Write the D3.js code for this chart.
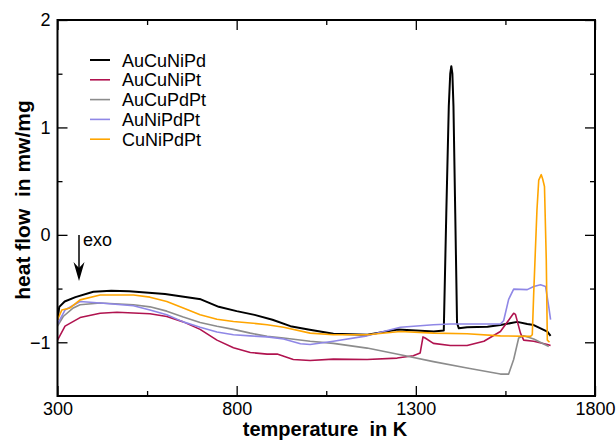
<!DOCTYPE html>
<html>
<head>
<meta charset="utf-8">
<script src="https://cdn.jsdelivr.net/npm/d3@7"></script>
<style>
body { margin: 0; background: #fff; }
text { font-family: "Liberation Sans", Arial, sans-serif; }
</style>
</head>
<body>
<div id="chart"></div>
<script>
////// DATA ////////
var names = ["AuCuNiPd", "AuCuNiPt", "AuCuPdPt", "AuNiPdPt", "CuNiPdPt"];
var colours = ["#000000", "#b0134f", "#8c8c8c", "#8f87e6", "#ffa500"];

// [temperature K, heat flow mw/mg]
var auCuNiPd = [[300,-0.79],[305,-0.67],[320,-0.62],[350,-0.58],[400,-0.53],[450,-0.52],[500,-0.525],[600,-0.55],[700,-0.60],[750,-0.67],[800,-0.71],[850,-0.745],[900,-0.79],[950,-0.85],[1000,-0.88],[1070,-0.92],[1165,-0.93],[1250,-0.88],[1350,-0.90],[1378,-0.89],[1385,0.2],[1392,1.2],[1396,1.5],[1399,1.57],[1402,1.5],[1405,1.2],[1410,0.2],[1415,-0.82],[1420,-0.87],[1443,-0.86],[1500,-0.855],[1536,-0.84],[1583,-0.81],[1611,-0.83],[1629,-0.84],[1648,-0.87],[1667,-0.90],[1676,-0.94]];
var auCuNiPt = [[300,-0.98],[321,-0.85],[363,-0.77],[419,-0.73],[466,-0.72],[558,-0.735],[605,-0.76],[651,-0.81],[698,-0.88],[745,-0.98],[791,-1.05],[838,-1.095],[885,-1.11],[913,-1.11],[958,-1.16],[1005,-1.17],[1070,-1.157],[1164,-1.16],[1248,-1.147],[1293,-1.125],[1312,-1.10],[1320,-0.95],[1326,-0.96],[1349,-1.01],[1396,-1.03],[1443,-1.03],[1490,-0.99],[1536,-0.90],[1573,-0.73],[1578,-0.74],[1592,-0.915],[1601,-0.98],[1629,-0.99],[1667,-1.02],[1676,-1.03]];
var auCuPdPt = [[300,-0.85],[316,-0.76],[344,-0.68],[363,-0.65],[419,-0.635],[512,-0.65],[558,-0.67],[605,-0.71],[651,-0.765],[698,-0.815],[745,-0.85],[791,-0.88],[838,-0.915],[885,-0.945],[931,-0.96],[1005,-0.99],[1070,-1.01],[1164,-1.054],[1257,-1.116],[1349,-1.18],[1443,-1.24],[1536,-1.296],[1559,-1.296],[1573,-1.16],[1587,-0.96],[1601,-0.94],[1629,-0.97],[1671,-1.04]];
var auNiPdPt = [[300,-0.83],[321,-0.70],[363,-0.62],[419,-0.635],[512,-0.66],[558,-0.70],[605,-0.744],[651,-0.81],[698,-0.86],[745,-0.905],[791,-0.93],[838,-0.94],[885,-0.95],[931,-0.97],[978,-1.014],[1005,-1.02],[1070,-0.99],[1164,-0.94],[1210,-0.90],[1257,-0.86],[1349,-0.837],[1396,-0.83],[1443,-0.83],[1536,-0.83],[1545,-0.80],[1559,-0.60],[1573,-0.505],[1611,-0.51],[1629,-0.48],[1648,-0.465],[1662,-0.48],[1671,-0.67],[1676,-0.79]];
var cuNiPdPt = [[300,-0.79],[312,-0.70],[335,-0.68],[363,-0.605],[419,-0.56],[512,-0.56],[558,-0.58],[605,-0.62],[651,-0.68],[698,-0.744],[745,-0.785],[791,-0.806],[838,-0.82],[885,-0.837],[931,-0.86],[1005,-0.915],[1070,-0.93],[1164,-0.93],[1257,-0.90],[1349,-0.915],[1443,-0.92],[1536,-0.94],[1620,-0.945],[1625,-0.93],[1629,-0.54],[1638,0.23],[1643,0.51],[1650,0.56],[1654,0.52],[1659,0.45],[1664,-0.23],[1667,-0.98],[1673,-1.0]];
var series = [auCuNiPd, auCuNiPt, auCuPdPt, auNiPdPt, cuNiPdPt];

var xTicks = [300, 800, 1300, 1800];
var xMinor = [550, 1050, 1550];
var yTicks = [-1, 0, 1, 2];
var yMinor = [-0.5, 0.5, 1.5];
///////////////////////

var w = 616, h = 441;
var mLeft = 57.5, mRight = 595, mTop = 20, mBottom = 396;

var svg = d3.select("#chart").append("svg")
	.attr("width", w)
	.attr("height", h);

var xScale = d3.scaleLinear().domain([300, 1800]).range([mLeft, mRight]);
var yScale = d3.scaleLinear().domain([-1.5, 2]).range([mBottom, mTop]);

// curves
var line = d3.line()
	.x(function (d) { return xScale(d[0]); })
	.y(function (d) { return yScale(d[1]); });

svg.append("defs").append("clipPath").attr("id", "clip")
	.append("rect").attr("x", mLeft).attr("y", mTop)
	.attr("width", mRight - mLeft).attr("height", mBottom - mTop);

svg.append("g").attr("clip-path", "url(#clip)")
	.selectAll("path")
	.data(series)
	.enter()
	.append("path")
	.attr("d", line)
	.attr("fill", "none")
	.attr("stroke", function (d, i) { return colours[i]; })
	.attr("stroke-width", function (d, i) { return i == 0 ? 2 : 1.6; })
	.attr("stroke-linejoin", "round");

// axes, ticks pointing inward on all four sides
function axisLine(axis) {
	return function (g) {
		g.call(axis);
		g.select(".domain").remove();
		g.selectAll(".tick line").attr("stroke", "#000").attr("stroke-width", 1.3);
		g.selectAll(".tick text").style("font-size", "18px").attr("fill", "#000");
	};
}

svg.append("g").attr("transform", "translate(0," + mBottom + ")")
	.call(axisLine(d3.axisBottom(xScale).tickValues(xTicks).tickSizeInner(-10).tickPadding(6).tickFormat(d3.format("d"))));
svg.append("g").attr("transform", "translate(0," + mBottom + ")")
	.call(axisLine(d3.axisBottom(xScale).tickValues(xMinor).tickSizeInner(-5).tickFormat("")));
svg.append("g").attr("transform", "translate(0," + mTop + ")")
	.call(axisLine(d3.axisTop(xScale).tickValues(xTicks).tickSizeInner(-10).tickFormat("")));
svg.append("g").attr("transform", "translate(0," + mTop + ")")
	.call(axisLine(d3.axisTop(xScale).tickValues(xMinor).tickSizeInner(-5).tickFormat("")));

svg.append("g").attr("transform", "translate(" + mLeft + ",0)")
	.call(axisLine(d3.axisLeft(yScale).tickValues(yTicks).tickSizeInner(-10).tickPadding(7).tickFormat(d3.format("d"))));
svg.append("g").attr("transform", "translate(" + mLeft + ",0)")
	.call(axisLine(d3.axisLeft(yScale).tickValues(yMinor).tickSizeInner(-5).tickFormat("")));
svg.append("g").attr("transform", "translate(" + mRight + ",0)")
	.call(axisLine(d3.axisRight(yScale).tickValues(yTicks).tickSizeInner(-10).tickFormat("")));
svg.append("g").attr("transform", "translate(" + mRight + ",0)")
	.call(axisLine(d3.axisRight(yScale).tickValues(yMinor).tickSizeInner(-5).tickFormat("")));

// frame
svg.append("rect")
	.attr("x", mLeft).attr("y", mTop)
	.attr("width", mRight - mLeft).attr("height", mBottom - mTop)
	.attr("fill", "none").attr("stroke", "#000").attr("stroke-width", 2);

// axis titles
svg.append("text")
	.attr("x", 325).attr("y", 436)
	.attr("text-anchor", "middle")
	.style("font-size", "20px").style("font-weight", "bold")
	.attr("xml:space", "preserve")
	.text("temperature  in K");

svg.append("text")
	.attr("transform", "translate(30," + 200 + ") rotate(-90)")
	.attr("text-anchor", "middle")
	.style("font-size", "21px").style("font-weight", "bold")
	.attr("xml:space", "preserve")
	.text("heat flow  in mw/mg");

// legend
var legend = svg.append("g").selectAll("g")
	.data(names)
	.enter()
	.append("g")
	.attr("transform", function (d, i) { return "translate(90," + (60 + i * 19.8) + ")"; });

legend.append("line")
	.attr("x1", 0).attr("x2", 20)
	.attr("stroke", function (d, i) { return colours[i]; })
	.attr("stroke-width", function (d, i) { return i == 0 ? 2 : 1.6; });

legend.append("text")
	.attr("x", 32).attr("y", 6.5)
	.style("font-size", "18px")
	.text(function (d) { return d; });

// exo arrow
svg.append("line")
	.attr("x1", 79).attr("y1", 235)
	.attr("x2", 79).attr("y2", 270)
	.attr("stroke", "#000").attr("stroke-width", 1.5);
svg.append("path")
	.attr("d", "M73.5,262 L79,281 L84.5,262 L79,268 Z")
	.attr("fill", "#000");

svg.append("text")
	.attr("x", 83).attr("y", 246)
	.style("font-size", "18px")
	.text("exo");
</script>
</body>
</html>
